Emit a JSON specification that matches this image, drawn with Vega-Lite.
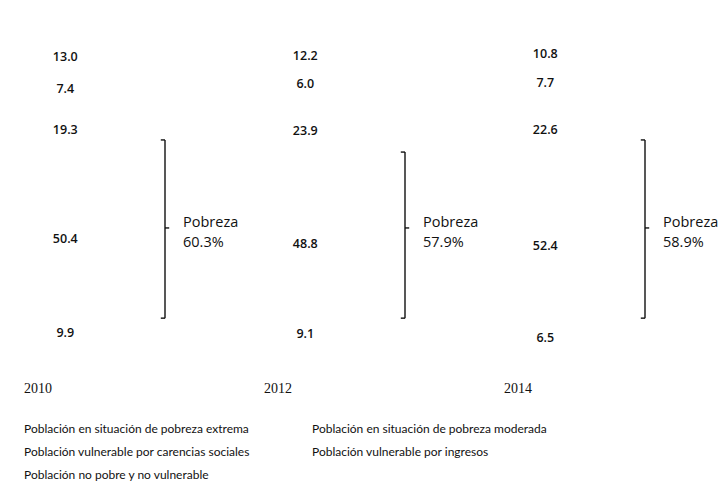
{
  "$schema": "https://vega.github.io/schema/vega-lite/v6.json",
  "width": 720,
  "height": 311,
  "autosize": {"type": "none"},
  "padding": {"left": 0, "top": 37, "right": 1, "bottom": 140},
  "background": "white",
  "config": {"view": {"stroke": null}, "font": "Lato"},
  "datasets": {
    "segs": [
      {"year": "2010", "category": "Población en situación de pobreza extrema", "ord": 1, "value": 9.9},
      {"year": "2010", "category": "Población en situación de pobreza moderada", "ord": 2, "value": 50.4},
      {"year": "2010", "category": "Población vulnerable por carencias sociales", "ord": 3, "value": 19.3},
      {"year": "2010", "category": "Población vulnerable por ingresos", "ord": 4, "value": 7.4},
      {"year": "2010", "category": "Población no pobre y no vulnerable", "ord": 5, "value": 13.0},
      {"year": "2012", "category": "Población en situación de pobreza extrema", "ord": 1, "value": 9.1},
      {"year": "2012", "category": "Población en situación de pobreza moderada", "ord": 2, "value": 48.8},
      {"year": "2012", "category": "Población vulnerable por carencias sociales", "ord": 3, "value": 23.9},
      {"year": "2012", "category": "Población vulnerable por ingresos", "ord": 4, "value": 6.0},
      {"year": "2012", "category": "Población no pobre y no vulnerable", "ord": 5, "value": 12.2},
      {"year": "2014", "category": "Población en situación de pobreza extrema", "ord": 1, "value": 6.5},
      {"year": "2014", "category": "Población en situación de pobreza moderada", "ord": 2, "value": 52.4},
      {"year": "2014", "category": "Población vulnerable por carencias sociales", "ord": 3, "value": 22.6},
      {"year": "2014", "category": "Población vulnerable por ingresos", "ord": 4, "value": 7.7},
      {"year": "2014", "category": "Población no pobre y no vulnerable", "ord": 5, "value": 10.8}
    ],
    "pob": [
      {"year": "2010", "lo": 9.6, "hi": 66.9, "mid": 38.6, "label": "Pobreza\n60.3%"},
      {"year": "2012", "lo": 9.6, "hi": 63.0, "mid": 38.6, "label": "Pobreza\n57.9%"},
      {"year": "2014", "lo": 9.6, "hi": 66.9, "mid": 38.6, "label": "Pobreza\n58.9%"}
    ]
  },
  "layer": [
    {
      "data": {"name": "segs"},
      "mark": {"type": "bar", "width": {"band": 0.25}, "fill": "#ffffff", "strokeWidth": 0},
      "encoding": {
        "x": {
          "field": "year", "type": "nominal", "title": null,
          "scale": {"domain": ["2010", "2012", "2014"], "paddingInner": 0, "paddingOuter": 0},
          "axis": {"orient": "bottom", "domain": false, "ticks": false, "labelAngle": 0, "labelAlign": "left", "labelOffset": -96, "labelPadding": 33, "labelFont": "Liberation Serif", "labelFontSize": 14, "labelColor": "#111111"}
        },
        "y": {"field": "value", "type": "quantitative", "stack": "zero", "scale": {"domain": [0, 100]}, "axis": null},
        "order": {"field": "ord"},
        "color": {
          "field": "category", "type": "nominal",
          "scale": {
            "domain": ["Población en situación de pobreza extrema", "Población en situación de pobreza moderada", "Población vulnerable por carencias sociales", "Población vulnerable por ingresos", "Población no pobre y no vulnerable"],
            "range": ["#ffffff", "#ffffff", "#ffffff", "#ffffff", "#ffffff"]
          },
          "legend": {
            "title": null, "orient": "none", "legendX": 12, "legendY": 386,
            "direction": "horizontal", "columns": 2, "columnPadding": 50, "rowPadding": 11,
            "symbolSize": 1, "symbolOpacity": 0, "symbolStrokeWidth": 0, "labelOffset": 0,
            "labelFont": "Lato", "labelFontSize": 12, "labelColor": "#111111", "labelLimit": 400
          }
        }
      }
    },
    {
      "data": {"name": "segs"},
      "transform": [
        {"stack": "value", "groupby": ["year"], "sort": [{"field": "ord"}], "as": ["v0", "v1"]},
        {"calculate": "(datum.v0 + datum.v1) / 2", "as": "vmid"}
      ],
      "mark": {"type": "text", "font": "Open Sans", "fontSize": 12.5, "fontWeight": 600, "color": "#111111", "align": "center", "baseline": "middle"},
      "encoding": {
        "x": {"field": "year", "type": "nominal", "bandPosition": 0.272},
        "y": {"field": "vmid", "type": "quantitative"},
        "text": {"field": "value", "type": "quantitative", "format": ".1f"}
      }
    },
    {
      "data": {"name": "pob"},
      "mark": {"type": "rule", "color": "#111111", "strokeWidth": 1.4},
      "encoding": {
        "x": {"field": "year", "type": "nominal", "bandPosition": 0.6875},
        "y": {"field": "lo", "type": "quantitative"},
        "y2": {"field": "hi"}
      }
    },
    {
      "data": {"name": "pob"},
      "mark": {"type": "rule", "color": "#111111", "strokeWidth": 1.4},
      "encoding": {
        "x": {"field": "year", "type": "nominal", "bandPosition": 0.67},
        "x2": {"field": "year", "bandPosition": 0.6875},
        "y": {"field": "hi", "type": "quantitative"}
      }
    },
    {
      "data": {"name": "pob"},
      "mark": {"type": "rule", "color": "#111111", "strokeWidth": 1.4},
      "encoding": {
        "x": {"field": "year", "type": "nominal", "bandPosition": 0.67},
        "x2": {"field": "year", "bandPosition": 0.6875},
        "y": {"field": "lo", "type": "quantitative"}
      }
    },
    {
      "data": {"name": "pob"},
      "mark": {"type": "rule", "color": "#111111", "strokeWidth": 1.4},
      "encoding": {
        "x": {"field": "year", "type": "nominal", "bandPosition": 0.6875},
        "x2": {"field": "year", "bandPosition": 0.705},
        "y": {"field": "mid", "type": "quantitative"}
      }
    },
    {
      "data": {"name": "pob"},
      "mark": {"type": "text", "font": "Open Sans", "fontSize": 14.5, "color": "#111111", "align": "left", "baseline": "middle", "lineBreak": "\n", "lineHeight": 20, "dy": -5},
      "encoding": {
        "x": {"field": "year", "type": "nominal", "bandPosition": 0.7625},
        "y": {"field": "mid", "type": "quantitative"},
        "text": {"field": "label"}
      }
    }
  ]
}
